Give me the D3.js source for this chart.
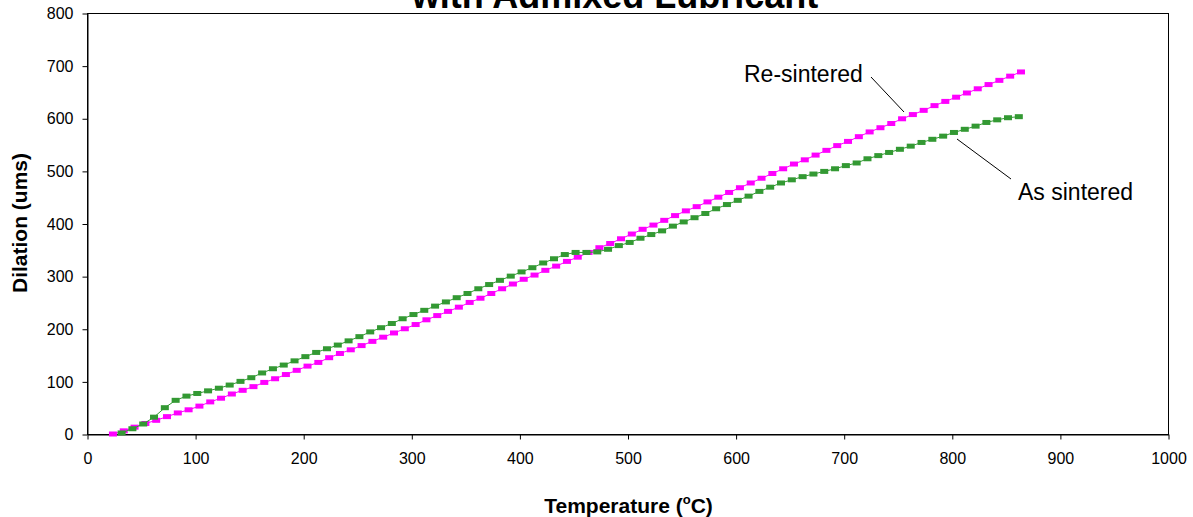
<!DOCTYPE html>
<html>
<head>
<meta charset="utf-8">
<script src="https://cdn.jsdelivr.net/npm/d3@7"></script>
<style>
  body { margin: 0; background: #fff; }
  svg { display: block; font-family: Arial, "Liberation Sans", sans-serif; }
</style>
</head>
<body>
<script>
// chart size
var width = 1193;
var height = 517;

var chartMargin = { top: 13, right: 25, bottom: 83, left: 87 };
var chartWidth = width - chartMargin.left - chartMargin.right;
var chartHeight = height - chartMargin.top - chartMargin.bottom;

// data (temperature in C, dilation in ums)
var reTemps = [24, 34, 44, 54, 64, 74, 84, 94, 104, 114, 124, 134, 144, 154, 164, 174, 184, 194, 204, 214,
  224, 234, 244, 254, 264, 274, 284, 294, 304, 314, 324, 334, 344, 354, 364, 374, 384, 394, 404, 414,
  424, 434, 444, 454, 464, 474, 484, 494, 504, 514, 524, 534, 544, 554, 564, 574, 584, 594, 604, 614,
  624, 634, 644, 654, 664, 674, 684, 694, 704, 714, 724, 734, 744, 754, 764, 774, 784, 794, 804, 814,
  824, 834, 844, 854, 864];
var reDilation = [0, 6, 13, 20, 26, 33, 40, 46, 53, 61, 68, 76, 83, 90, 98, 105, 113, 121, 129, 136,
  145, 153, 160, 168, 176, 184, 192, 200, 208, 217, 225, 233, 241, 250, 258, 267, 276, 285, 294, 302,
  311, 319, 328, 336, 345, 354, 362, 371, 380, 389, 397, 406, 415, 424, 432, 441, 450, 459, 468, 477,
  486, 495, 504, 513, 521, 530, 539, 548, 556, 565, 574, 582, 590, 599, 607, 615, 624, 632, 640, 648,
  656, 664, 672, 680, 688];

var asTemps = [32, 42, 52, 62, 72, 82, 92, 102, 112, 122, 132, 142, 152, 162, 172, 182, 192, 202, 212, 222,
  232, 242, 252, 262, 272, 282, 292, 302, 312, 322, 332, 342, 352, 362, 372, 382, 392, 402, 412, 422,
  432, 442, 452, 462, 472, 482, 492, 502, 512, 522, 532, 542, 552, 562, 572, 582, 592, 602, 612, 622,
  632, 642, 652, 662, 672, 682, 692, 702, 712, 722, 732, 742, 752, 762, 772, 782, 792, 802, 812, 822,
  832, 842, 852, 862];
var asDilation = [2, 10, 19, 32, 50, 64, 72, 77, 82, 87, 93, 100, 107, 116, 124, 131, 139, 147, 155, 162,
  169, 177, 185, 194, 202, 210, 219, 227, 235, 243, 251, 259, 267, 276, 284, 292, 300, 308, 316, 325,
  333, 341, 345, 345, 346, 351, 358, 364, 372, 379, 386, 395, 403, 411, 419, 428, 436, 444, 452, 461,
  469, 477, 483, 489, 494, 499, 504, 510, 515, 523, 529, 535, 541, 547, 554, 560, 566, 573, 579, 585,
  592, 597, 601, 603];

var xTicks = [0, 100, 200, 300, 400, 500, 600, 700, 800, 900, 1000];
var yTicks = [0, 100, 200, 300, 400, 500, 600, 700, 800];

var series = [
  { name: "Re-sintered", color: "#ff00ff", temps: reTemps, values: reDilation },
  { name: "As sintered", color: "#339933", temps: asTemps, values: asDilation }
];

var svg = d3.select("body")
  .append("svg")
  .attr("width", width)
  .attr("height", height);

var chartGroup = svg.append("g")
  .attr("transform", `translate(${chartMargin.left}, ${chartMargin.top})`);

var xScale = d3.scaleLinear().domain([0, 1000]).range([0, chartWidth]);
var yScale = d3.scaleLinear().domain([0, 800]).range([chartHeight, 0]);

// frame on the top and right
chartGroup.append("rect")
  .attr("x", 0.5)
  .attr("y", 0.5)
  .attr("width", chartWidth)
  .attr("height", chartHeight)
  .attr("fill", "none")
  .attr("stroke", "#000")
  .attr("stroke-width", 1);

// axes
var xAxis = d3.axisBottom(xScale).tickValues(xTicks).tickFormat(d3.format("d"))
  .tickSize(5).tickSizeOuter(0).tickPadding(13);
var yAxis = d3.axisLeft(yScale).tickValues(yTicks).tickFormat(d3.format("d"))
  .tickSize(5).tickSizeOuter(0).tickPadding(9);

chartGroup.append("g")
  .attr("transform", `translate(0.5, ${chartHeight + 0.5})`)
  .call(xAxis)
  .call(g => g.selectAll("text").attr("font-size", 16).attr("fill", "#000").attr("font-family", "Arial, 'Liberation Sans', sans-serif"))
  .call(g => g.selectAll("line,path").attr("stroke", "#000"));

chartGroup.append("g")
  .attr("transform", "translate(0.5, 0.5)")
  .call(yAxis)
  .call(g => g.selectAll("text").attr("font-size", 16).attr("fill", "#000").attr("font-family", "Arial, 'Liberation Sans', sans-serif"))
  .call(g => g.selectAll("line,path").attr("stroke", "#000"));

// lines and dash markers
var line = d3.line()
  .x(d => xScale(d[0]))
  .y(d => yScale(d[1]));

series.forEach(function(s) {
  var pts = s.temps.map((t, i) => [t, s.values[i]]);
  chartGroup.append("path")
    .datum(pts)
    .attr("fill", "none")
    .attr("stroke", s.color)
    .attr("stroke-width", 1)
    .attr("d", line);

  chartGroup.append("g")
    .selectAll("rect")
    .data(pts)
    .enter()
    .append("rect")
    .attr("x", d => xScale(d[0]) - 4)
    .attr("y", d => yScale(d[1]) - 2.5)
    .attr("width", 8)
    .attr("height", 5)
    .attr("fill", s.color);
});

// annotations
svg.append("text")
  .attr("x", 744)
  .attr("y", 82)
  .attr("font-size", 23)
  .text("Re-sintered");
svg.append("line")
  .attr("x1", 871).attr("y1", 77)
  .attr("x2", 904).attr("y2", 112)
  .attr("stroke", "#000");

svg.append("text")
  .attr("x", 1018)
  .attr("y", 200)
  .attr("font-size", 23)
  .text("As sintered");
svg.append("line")
  .attr("x1", 957).attr("y1", 139)
  .attr("x2", 1011).attr("y2", 179)
  .attr("stroke", "#000");

// title, mostly cut off at the top as in the source
svg.append("text")
  .attr("x", 615)
  .attr("y", 8)
  .attr("text-anchor", "middle")
  .attr("font-size", 36)
  .attr("font-weight", "bold")
  .text("with Admixed Lubricant");

// axis titles
var xTitle = svg.append("text")
  .attr("x", chartMargin.left + chartWidth / 2 + 1)
  .attr("y", 513)
  .attr("text-anchor", "middle")
  .attr("font-size", 21)
  .attr("font-weight", "bold");
xTitle.append("tspan").text("Temperature (");
xTitle.append("tspan").attr("font-size", 13).attr("dy", -9).text("o");
xTitle.append("tspan").attr("dy", 9).text("C)");

svg.append("text")
  .attr("transform", "translate(27, 223) rotate(-90)")
  .attr("text-anchor", "middle")
  .attr("font-size", 21)
  .attr("font-weight", "bold")
  .text("Dilation (ums)");
</script>
</body>
</html>
